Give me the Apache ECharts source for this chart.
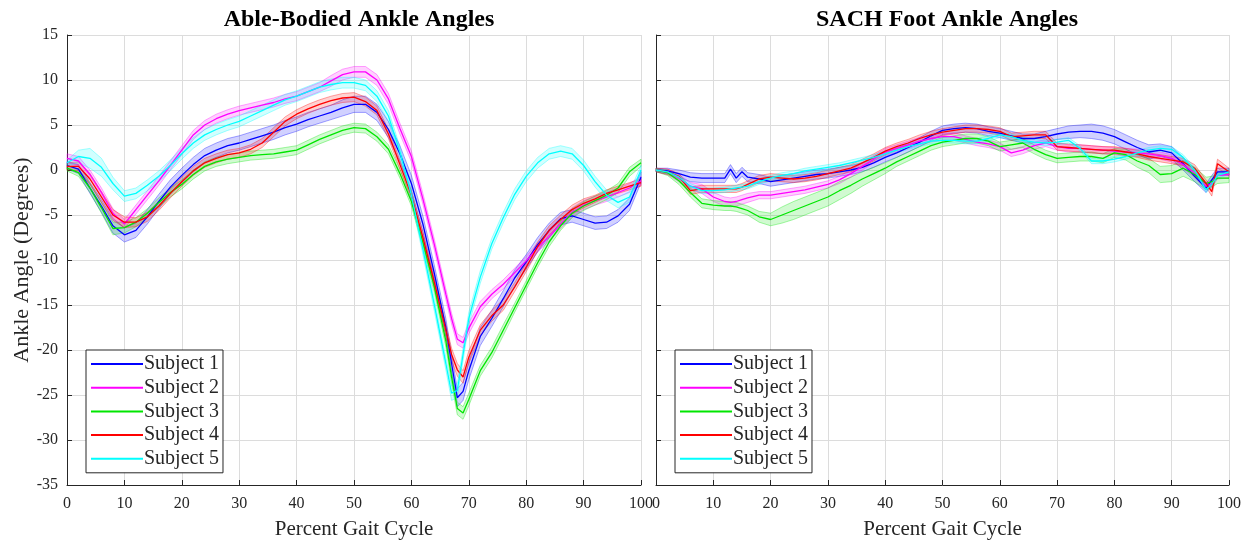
<!DOCTYPE html>
<html>
<head>
<meta charset="utf-8">
<script src="https://cdn.jsdelivr.net/npm/echarts@6/dist/echarts.min.js"></script>
<style>
html,body{margin:0;padding:0;background:#fff;}
#chart{width:1248px;height:545px;}
</style>
</head>
<body>
<div id="chart"></div>
<script>
// ---------- DATA ----------
var subjects = ['Subject 1', 'Subject 2', 'Subject 3', 'Subject 4', 'Subject 5'];
var xTicks = [0, 10, 20, 30, 40, 50, 60, 70, 80, 90, 100];
var yTicks = [15, 10, 5, 0, -5, -10, -15, -20, -25, -30, -35];

// Able-bodied sample points (% gait cycle)
var xAble = [0,2,4,6,8,10,12,14,16,18,20,22,24,26,28,30,32,34,36,38,40,42,44,46,48,50,52,54,56,58,60,62,64,66,67,68,69,70,72,74,76,78,80,82,84,86,88,90,92,94,96,98,100];

var ableS1 = [0.5,0.1,-2.0,-4.0,-6.2,-7.2,-6.7,-5.2,-3.5,-1.9,-0.6,0.6,1.6,2.2,2.7,3.0,3.4,3.8,4.2,4.7,5.1,5.6,6.0,6.4,6.9,7.3,7.3,6.4,4.5,1.8,-1.5,-6.0,-11.5,-17.5,-21.5,-25.3,-24.6,-22.3,-18.5,-16.5,-14.3,-12.0,-10.2,-8.3,-6.7,-5.4,-5.1,-5.5,-5.9,-5.8,-5.1,-3.8,-0.8];
var ableS2 = [1.3,1.0,-0.5,-2.5,-4.8,-6.0,-4.4,-2.8,-1.2,0.5,2.2,3.9,5.0,5.7,6.2,6.6,6.9,7.2,7.5,7.9,8.2,8.7,9.2,9.9,10.6,10.9,10.9,10.0,7.9,4.6,1.5,-3.2,-8.3,-13.8,-16.5,-18.8,-19.2,-17.6,-15.2,-13.8,-12.7,-11.4,-10.1,-8.6,-7.4,-6.0,-4.7,-3.9,-3.4,-3.0,-2.5,-2.0,-1.2];
var ableS3 = [0.2,-0.3,-2.0,-4.2,-6.5,-6.4,-5.8,-4.8,-3.6,-2.5,-1.6,-0.5,0.4,0.9,1.2,1.4,1.6,1.7,1.8,2.0,2.2,2.8,3.4,3.9,4.4,4.7,4.6,3.7,2.3,-0.4,-3.5,-8.0,-13.0,-19.0,-23.0,-26.5,-27.0,-25.5,-22.3,-20.3,-17.8,-15.3,-12.8,-10.3,-8.0,-6.2,-4.8,-4.0,-3.4,-2.8,-2.0,-0.2,0.8];
var ableS4 = [0.4,0.4,-1.0,-3.0,-5.0,-5.8,-5.8,-5.2,-4.0,-2.6,-1.3,-0.1,0.8,1.3,1.7,1.9,2.3,3.0,4.2,5.4,6.2,6.8,7.3,7.7,8.0,8.1,7.6,6.6,4.0,0.6,-2.8,-7.5,-12.5,-17.8,-20.5,-22.2,-23.0,-20.8,-17.8,-16.2,-15.0,-13.0,-10.8,-8.5,-6.7,-5.5,-4.4,-3.7,-3.2,-2.6,-2.2,-1.8,-1.4];
var ableS5 = [0.8,1.5,1.3,0.3,-1.5,-2.9,-2.6,-1.7,-0.7,0.5,1.8,3.0,3.9,4.5,5.0,5.4,6.0,6.6,7.2,7.8,8.2,8.7,9.2,9.5,9.7,9.7,9.4,8.2,6.0,2.0,-2.8,-8.8,-15.0,-21.5,-24.8,-24.5,-20.5,-16.5,-11.9,-8.2,-5.3,-2.7,-0.7,0.8,1.8,2.1,1.8,0.5,-1.3,-2.8,-3.6,-3.0,0.0];

var ableSd1 = [0.4,0.5,0.6,0.7,0.8,0.8,0.8,0.8,0.8,0.8,0.8,0.8,0.8,0.8,0.8,0.8,0.8,0.8,0.8,0.8,0.8,0.8,0.8,0.8,0.9,0.9,0.9,0.9,0.9,0.9,0.9,0.9,0.9,1.0,1.0,1.0,1.0,1.0,1.0,0.9,0.9,0.9,0.8,0.8,0.8,0.7,0.7,0.7,0.7,0.7,0.7,0.7,0.6];
var ableSd2 = [0.5,0.5,0.5,0.5,0.5,0.5,0.5,0.5,0.5,0.5,0.5,0.5,0.5,0.5,0.5,0.5,0.5,0.5,0.5,0.5,0.5,0.5,0.5,0.6,0.6,0.6,0.6,0.6,0.6,0.6,0.6,0.6,0.6,0.6,0.6,0.6,0.6,0.6,0.6,0.5,0.5,0.5,0.5,0.5,0.5,0.5,0.5,0.5,0.5,0.5,0.5,0.5,0.5];
var ableSd3 = [0.3,0.4,0.5,0.6,0.7,0.6,0.5,0.5,0.5,0.5,0.5,0.5,0.5,0.5,0.5,0.5,0.5,0.5,0.5,0.5,0.5,0.5,0.5,0.5,0.5,0.5,0.5,0.5,0.5,0.5,0.5,0.6,0.6,0.7,0.7,0.7,0.7,0.7,0.6,0.6,0.6,0.5,0.5,0.5,0.5,0.5,0.5,0.5,0.5,0.5,0.5,0.5,0.4];
var ableSd4 = [0.4,0.5,0.6,0.6,0.6,0.6,0.5,0.5,0.5,0.5,0.5,0.5,0.5,0.5,0.5,0.5,0.5,0.5,0.5,0.5,0.5,0.5,0.5,0.5,0.5,0.5,0.5,0.5,0.5,0.5,0.5,0.6,0.6,0.7,0.7,0.7,0.7,0.7,0.6,0.6,0.6,0.5,0.5,0.5,0.5,0.5,0.5,0.5,0.4,0.4,0.4,0.4,0.4];
var ableSd5 = [0.3,0.7,1.1,1.0,0.7,0.6,0.6,0.6,0.6,0.6,0.6,0.6,0.6,0.6,0.6,0.6,0.6,0.6,0.6,0.6,0.6,0.6,0.6,0.6,0.6,0.6,0.6,0.6,0.6,0.6,0.6,0.6,0.7,0.7,0.8,0.8,0.7,0.7,0.7,0.6,0.6,0.6,0.6,0.6,0.6,0.6,0.6,0.6,0.6,0.6,0.6,0.6,0.5];

// SACH foot sample points (% gait cycle)
var xSach = [0,2,4,6,8,10,12,13,14,15,16,18,20,22,24,26,28,30,32,34,36,38,40,42,44,46,48,50,52,54,56,58,60,62,64,66,68,70,72,74,76,78,80,82,84,86,88,90,92,94,96,97,98,100];

var sachS1 = [0,-0.1,-0.4,-0.8,-0.9,-0.9,-0.9,0.1,-0.9,-0.2,-0.8,-1.0,-1.3,-1.1,-0.9,-0.7,-0.5,-0.4,-0.2,0.0,0.3,0.8,1.4,1.9,2.5,3.1,3.8,4.4,4.6,4.7,4.6,4.3,4.1,3.8,3.5,3.5,3.7,4.0,4.2,4.3,4.3,4.1,3.7,3.1,2.5,2.0,2.2,1.9,0.7,-0.7,-2.0,-1.1,-0.2,-0.2];
var sachS2 = [0,-0.2,-0.9,-1.8,-2.1,-3.0,-3.5,-3.6,-3.5,-3.3,-3.1,-2.8,-2.8,-2.6,-2.4,-2.2,-1.9,-1.6,-1.1,-0.4,0.4,1.2,2.0,2.4,2.8,3.2,3.5,3.7,3.7,3.4,3.1,2.9,2.6,1.9,2.2,2.7,3.0,2.6,2.4,2.4,2.3,2.2,2.1,2.0,1.9,1.8,1.6,1.3,0.6,-0.4,-1.8,-1.5,-0.6,-0.5];
var sachS3 = [0,-0.3,-1.2,-2.5,-3.7,-3.9,-4.0,-4.0,-4.1,-4.3,-4.5,-5.2,-5.5,-5.0,-4.5,-4.0,-3.5,-3.0,-2.3,-1.7,-1.0,-0.4,0.2,0.9,1.5,2.1,2.7,3.1,3.3,3.5,3.5,3.2,2.6,2.8,3.0,2.3,1.7,1.3,1.4,1.5,1.5,1.3,1.9,1.7,1.0,0.5,-0.5,-0.4,0.2,-0.5,-1.5,-1.3,-0.9,-0.9];
var sachS4 = [0,-0.2,-0.7,-2.3,-2.1,-2.1,-2.1,-2.1,-2.1,-1.9,-1.6,-1.0,-0.8,-0.9,-1.0,-0.9,-0.7,-0.4,-0.1,0.2,0.8,1.4,2.1,2.6,3.0,3.5,3.9,4.2,4.4,4.6,4.6,4.5,4.3,3.7,3.8,3.9,3.9,2.6,2.5,2.4,2.3,2.2,2.2,2.0,1.8,1.5,1.3,1.1,0.9,0.2,-1.5,-2.4,0.7,-0.2];
var sachS5 = [0,-0.2,-0.8,-1.8,-2.3,-2.3,-2.2,-2.1,-2.0,-1.9,-1.8,-1.3,-0.9,-0.6,-0.4,-0.1,0.1,0.3,0.5,0.8,1.1,1.4,1.8,2.2,2.6,2.9,3.2,3.3,3.3,3.2,3.2,3.5,3.9,3.7,3.3,3.1,3.0,3.1,3.3,2.4,1.0,1.0,1.2,1.5,1.9,2.2,2.4,2.3,1.4,0.0,-2.2,-1.6,-0.6,-0.2];

var sachSd1 = [0.2,0.3,0.4,0.5,0.5,0.5,0.5,0.5,0.5,0.5,0.5,0.5,0.5,0.5,0.5,0.5,0.5,0.5,0.5,0.5,0.5,0.5,0.5,0.5,0.5,0.5,0.5,0.5,0.5,0.5,0.5,0.5,0.5,0.5,0.5,0.5,0.6,0.6,0.7,0.7,0.8,0.8,0.8,0.8,0.8,0.8,0.7,0.7,0.7,0.6,0.5,0.5,0.4,0.4];
var sachSd2 = [0.2,0.3,0.4,0.4,0.5,0.5,0.5,0.5,0.5,0.5,0.5,0.4,0.4,0.4,0.4,0.4,0.4,0.4,0.4,0.4,0.4,0.4,0.4,0.4,0.4,0.4,0.4,0.4,0.4,0.4,0.4,0.4,0.4,0.4,0.4,0.4,0.4,0.4,0.4,0.4,0.4,0.4,0.4,0.4,0.4,0.4,0.4,0.4,0.4,0.4,0.4,0.4,0.4,0.4];
var sachSd3 = [0.2,0.3,0.4,0.5,0.5,0.5,0.5,0.5,0.5,0.5,0.5,0.6,0.7,0.9,1.0,1.0,1.0,1.0,1.0,0.9,0.8,0.7,0.6,0.5,0.5,0.5,0.5,0.5,0.5,0.5,0.5,0.5,0.5,0.5,0.5,0.5,0.5,0.5,0.5,0.5,0.5,0.5,0.5,0.6,0.7,0.8,0.9,0.9,0.9,0.8,0.7,0.6,0.6,0.5];
var sachSd4 = [0.2,0.3,0.3,0.4,0.4,0.4,0.4,0.4,0.4,0.4,0.4,0.4,0.4,0.4,0.4,0.4,0.4,0.4,0.4,0.4,0.4,0.4,0.4,0.4,0.4,0.4,0.4,0.4,0.4,0.4,0.4,0.4,0.4,0.4,0.4,0.4,0.4,0.4,0.4,0.4,0.4,0.4,0.4,0.4,0.4,0.4,0.4,0.4,0.4,0.4,0.4,0.5,0.5,0.4];
var sachSd5 = [0.1,0.2,0.2,0.3,0.3,0.3,0.3,0.3,0.3,0.3,0.3,0.3,0.3,0.3,0.3,0.3,0.3,0.3,0.3,0.3,0.3,0.3,0.3,0.3,0.3,0.3,0.3,0.3,0.3,0.3,0.3,0.3,0.3,0.3,0.3,0.3,0.3,0.3,0.3,0.3,0.3,0.3,0.3,0.3,0.3,0.3,0.3,0.3,0.3,0.3,0.3,0.3,0.3,0.3];

var colorsRGB = [[0, 0, 255], [255, 0, 255], [0, 230, 0], [255, 0, 0], [0, 255, 255]];

// ---------- BUILD ----------
var FONT = 'Liberation Serif';
var TXT = '#262626';

function rgba(c, a) { return 'rgba(' + c[0] + ',' + c[1] + ',' + c[2] + ',' + a + ')'; }

function bandSeries(idx, name, xs, mean, sd, c) {
  var bandData = xs.map(function (x, i) { return [x, mean[i] - sd[i], mean[i] + sd[i]]; });
  var line = xs.map(function (x, i) { return [x, mean[i]]; });
  var band = {
    type: 'custom', xAxisIndex: idx, yAxisIndex: idx, silent: true, z: 2,
    data: bandData,
    encode: { x: 0, y: [1, 2] },
    renderItem: function (params, api) {
      if (params.dataIndex !== 0) return null;
      var upper = [], lower = [];
      for (var i = 0; i < bandData.length; i++) {
        upper.push(api.coord([bandData[i][0], bandData[i][2]]));
        lower.push(api.coord([bandData[i][0], bandData[i][1]]));
      }
      var pts = upper.concat(lower.reverse());
      return {
        type: 'polygon',
        shape: { points: pts },
        style: { fill: rgba(c, 0.18), stroke: rgba(c, 0.35), lineWidth: 1 }
      };
    }
  };
  var ln = {
    type: 'line', name: name, xAxisIndex: idx, yAxisIndex: idx, data: line, showSymbol: false,
    lineStyle: { color: rgba(c, 1), width: 1.3 }, itemStyle: { color: rgba(c, 1) }, z: 3
  };
  return [band, ln];
}

var ableMeans = [ableS1, ableS2, ableS3, ableS4, ableS5];
var ableSds = [ableSd1, ableSd2, ableSd3, ableSd4, ableSd5];
var sachMeans = [sachS1, sachS2, sachS3, sachS4, sachS5];
var sachSds = [sachSd1, sachSd2, sachSd3, sachSd4, sachSd5];

var series = [];
subjects.forEach(function (s, i) {
  series = series.concat(bandSeries(0, s, xAble, ableMeans[i], ableSds[i], colorsRGB[i]));
});
subjects.forEach(function (s, i) {
  series = series.concat(bandSeries(1, s, xSach, sachMeans[i], sachSds[i], colorsRGB[i]));
});

function xAxisCfg(idx) {
  return {
    type: 'value', gridIndex: idx, min: xTicks[0], max: xTicks[xTicks.length - 1], interval: 10,
    name: 'Percent Gait Cycle', nameLocation: 'middle', nameGap: 34,
    nameTextStyle: { fontFamily: FONT, fontSize: 21, color: TXT },
    axisLine: { show: true, onZero: false, lineStyle: { color: TXT, width: 1 } },
    axisTick: { show: true, inside: true, length: 5, lineStyle: { color: TXT } },
    axisLabel: { fontFamily: FONT, fontSize: 16, color: TXT, margin: 11, showMinLabel: true, showMaxLabel: true },
    splitLine: { show: true, lineStyle: { color: '#dcdcdc', width: 1 } }
  };
}
function yAxisCfg(idx, labels) {
  return {
    type: 'value', gridIndex: idx, min: yTicks[yTicks.length - 1], max: yTicks[0], interval: 5,
    name: labels ? 'Ankle Angle (Degrees)' : '', nameLocation: 'middle', nameGap: 34,
    nameTextStyle: { fontFamily: FONT, fontSize: 22, color: TXT },
    axisLine: { show: true, onZero: false, lineStyle: { color: TXT, width: 1 } },
    axisTick: { show: true, inside: true, length: 5, lineStyle: { color: TXT } },
    axisLabel: { show: labels, fontFamily: FONT, fontSize: 16, color: TXT, margin: 9 },
    splitLine: { show: true, lineStyle: { color: '#dcdcdc', width: 1 } }
  };
}
function legendCfg(left) {
  return {
    orient: 'vertical', left: left, top: 350,
    data: subjects,
    icon: 'rect', itemWidth: 52, itemHeight: 2, itemGap: 3.7,
    padding: [4, 4, 4, 5],
    backgroundColor: '#fff', borderColor: TXT, borderWidth: 1,
    textStyle: { fontFamily: FONT, fontSize: 20, color: TXT, lineHeight: 20, padding: [0, 0, 0, -4] },
    selectedMode: false
  };
}

var chart = echarts.init(document.getElementById('chart'), null, { renderer: 'canvas' });
chart.setOption({
  animation: false,
  backgroundColor: '#ffffff',
  title: [
    { text: 'Able-Bodied Ankle Angles', left: 354, top: 3, textAlign: 'center',
      textStyle: { fontFamily: FONT, fontSize: 24, fontWeight: 'bold', color: '#000' } },
    { text: 'SACH Foot Ankle Angles', left: 942, top: 3, textAlign: 'center',
      textStyle: { fontFamily: FONT, fontSize: 24, fontWeight: 'bold', color: '#000' } }
  ],
  grid: [
    { left: 67, right: 607, top: 35, bottom: 57 },
    { left: 656, right: 19, top: 35, bottom: 57 }
  ],
  xAxis: [xAxisCfg(0), xAxisCfg(1)],
  yAxis: [yAxisCfg(0, true), yAxisCfg(1, false)],
  legend: [legendCfg(86), legendCfg(675)],
  series: series
});
</script>
</body>
</html>
